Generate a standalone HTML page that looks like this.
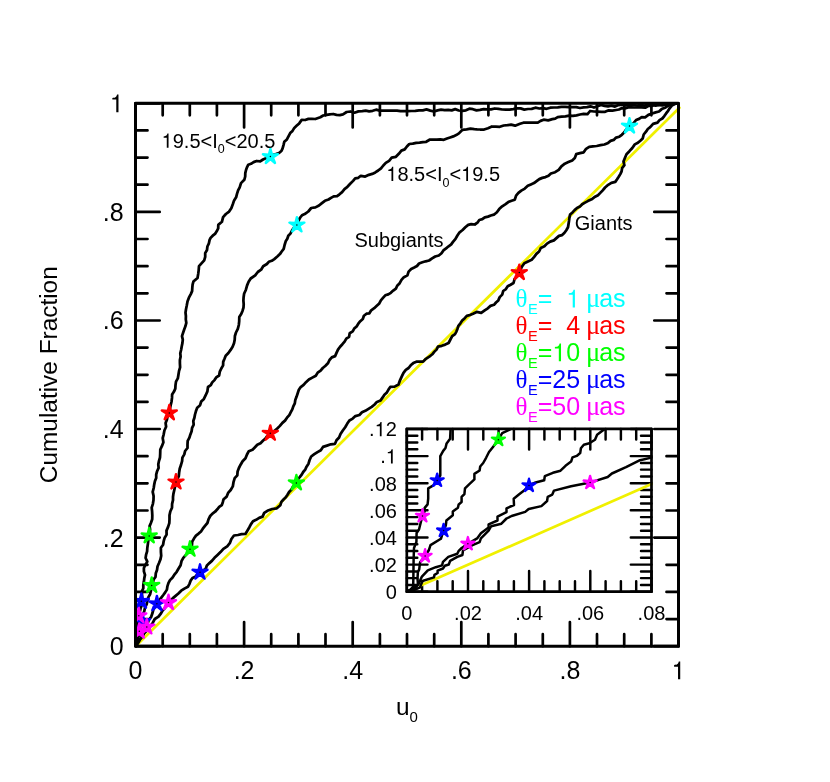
<!DOCTYPE html>
<html><head><meta charset="utf-8"><title>Cumulative Fraction vs u0</title>
<style>
html,body{margin:0;padding:0;background:#fff;}
body{width:830px;height:782px;position:relative;overflow:hidden;font-family:"Liberation Sans",sans-serif;}
</style></head><body>
<svg width="830" height="782" viewBox="0 0 830 782" style="position:absolute;left:0;top:0;will-change:transform">
<rect width="830" height="782" fill="#fff"/>
<g stroke="#000" stroke-width="2.7" stroke-linecap="round" fill="none">
<path d="M135.5 646.2 V622.0 M135.5 103.3 V127.5 M135.5 646.2 H159.7 M678.5 646.2 H654.3"/>
<path d="M162.7 646.2 V634.2 M162.7 103.3 V115.3 M135.5 619.1 H147.5 M678.5 619.1 H666.5"/>
<path d="M189.8 646.2 V634.2 M189.8 103.3 V115.3 M135.5 591.9 H147.5 M678.5 591.9 H666.5"/>
<path d="M216.9 646.2 V634.2 M216.9 103.3 V115.3 M135.5 564.8 H147.5 M678.5 564.8 H666.5"/>
<path d="M244.1 646.2 V622.0 M244.1 103.3 V127.5 M135.5 537.6 H159.7 M678.5 537.6 H654.3"/>
<path d="M271.2 646.2 V634.2 M271.2 103.3 V115.3 M135.5 510.5 H147.5 M678.5 510.5 H666.5"/>
<path d="M298.4 646.2 V634.2 M298.4 103.3 V115.3 M135.5 483.3 H147.5 M678.5 483.3 H666.5"/>
<path d="M325.5 646.2 V634.2 M325.5 103.3 V115.3 M135.5 456.2 H147.5 M678.5 456.2 H666.5"/>
<path d="M352.7 646.2 V622.0 M352.7 103.3 V127.5 M135.5 429.0 H159.7 M678.5 429.0 H654.3"/>
<path d="M379.9 646.2 V634.2 M379.9 103.3 V115.3 M135.5 401.9 H147.5 M678.5 401.9 H666.5"/>
<path d="M407.0 646.2 V634.2 M407.0 103.3 V115.3 M135.5 374.8 H147.5 M678.5 374.8 H666.5"/>
<path d="M434.2 646.2 V634.2 M434.2 103.3 V115.3 M135.5 347.6 H147.5 M678.5 347.6 H666.5"/>
<path d="M461.3 646.2 V622.0 M461.3 103.3 V127.5 M135.5 320.5 H159.7 M678.5 320.5 H654.3"/>
<path d="M488.4 646.2 V634.2 M488.4 103.3 V115.3 M135.5 293.3 H147.5 M678.5 293.3 H666.5"/>
<path d="M515.6 646.2 V634.2 M515.6 103.3 V115.3 M135.5 266.2 H147.5 M678.5 266.2 H666.5"/>
<path d="M542.8 646.2 V634.2 M542.8 103.3 V115.3 M135.5 239.0 H147.5 M678.5 239.0 H666.5"/>
<path d="M569.9 646.2 V622.0 M569.9 103.3 V127.5 M135.5 211.9 H159.7 M678.5 211.9 H654.3"/>
<path d="M597.0 646.2 V634.2 M597.0 103.3 V115.3 M135.5 184.7 H147.5 M678.5 184.7 H666.5"/>
<path d="M624.2 646.2 V634.2 M624.2 103.3 V115.3 M135.5 157.6 H147.5 M678.5 157.6 H666.5"/>
<path d="M651.4 646.2 V634.2 M651.4 103.3 V115.3 M135.5 130.4 H147.5 M678.5 130.4 H666.5"/>
<path d="M678.5 646.2 V622.0 M678.5 103.3 V127.5 M135.5 103.3 H159.7 M678.5 103.3 H654.3"/>
</g>
<path d="M138.2 643.8 L679.4 107.7" stroke="#f0f000" stroke-width="2.7" fill="none" stroke-linecap="round"/>
<g stroke="#000" stroke-width="2.75" stroke-linejoin="round" stroke-linecap="round" fill="none">
<path d="M136.0 646.0 L136.5 642.1 L137.1 638.2 L137.4 634.3 L137.4 630.4 L137.7 626.7 L137.6 623.1 L138.5 619.5 L138.8 615.8 L139.7 612.2 L140.5 608.6 L141.8 605.1 L141.4 601.3 L142.2 598.1 L142.0 594.8 L141.9 591.4 L143.3 588.3 L143.3 584.9 L143.9 581.6 L144.3 578.2 L145.0 574.9 L143.9 571.4 L143.9 568.0 L145.5 564.7 L147.3 561.6 L145.6 558.0 L146.1 554.6 L147.1 551.3 L147.3 548.0 L147.9 543.9 L148.4 539.9 L149.2 535.9 L149.7 532.7 L150.1 529.5 L149.6 526.1 L150.9 523.0 L152.2 519.3 L152.3 515.4 L152.1 511.5 L151.7 507.6 L152.9 503.8 L153.5 500.0 L153.6 496.0 L152.7 491.9 L153.7 488.0 L154.2 484.6 L154.9 481.3 L156.2 478.0 L156.2 474.6 L157.1 471.2 L158.6 467.9 L158.3 464.3 L159.0 460.8 L160.0 457.5 L160.2 453.5 L160.3 449.5 L162.0 445.9 L163.4 442.2 L162.7 438.1 L163.7 434.3 L164.4 430.5 L166.1 426.8 L165.6 423.0 L166.9 419.7 L167.6 416.1 L169.3 412.9 L169.9 409.1 L170.6 405.4 L171.5 401.7 L172.0 397.9 L172.1 394.6 L174.0 391.6 L175.3 388.6 L175.5 385.1 L176.0 381.6 L177.8 378.4 L178.4 375.0 L179.0 371.1 L180.1 367.3 L179.9 363.3 L179.9 360.0 L180.6 356.7 L180.3 353.3 L181.1 350.0 L181.7 346.5 L182.4 343.1 L182.8 339.7 L182.0 336.1 L183.1 332.8 L184.2 329.5 L185.4 326.3 L186.3 322.9 L185.8 319.4 L185.9 316.0 L185.5 312.6 L186.0 309.2 L186.8 305.3 L187.5 301.4 L188.9 297.7 L190.8 294.1 L192.1 291.1 L192.3 287.8 L192.6 284.6 L193.4 281.6 L197.5 277.9 L198.2 273.9 L198.7 270.1 L199.0 266.2 L201.7 263.2 L204.2 260.3 L205.2 256.9 L205.2 253.1 L207.0 250.0 L207.4 246.5 L208.9 243.3 L209.6 239.9 L210.6 237.9 L212.7 235.7 L215.0 233.9 L216.7 231.3 L218.2 228.4 L218.3 224.9 L221.9 221.8 L223.1 217.1 L225.9 214.0 L229.1 211.6 L231.3 208.2 L232.8 204.3 L234.1 200.4 L236.1 197.3 L237.0 193.8 L238.1 190.4 L239.7 187.3 L241.0 183.1 L244.3 179.8 L245.2 176.5 L245.3 173.1 L246.1 169.8 L247.1 167.1 L248.3 164.7 L251.0 163.8 L253.6 162.1 L256.7 161.0 L260.2 161.4 L263.0 159.5 L266.6 157.9 L270.4 156.6 L272.9 154.8 L275.9 154.0 L279.0 153.0 L281.4 151.0 L282.6 148.4 L283.5 145.1 L284.3 141.8 L286.9 139.4 L288.6 136.1 L290.2 133.1 L292.5 130.9 L294.3 127.9 L296.8 125.6 L299.2 123.4 L301.7 119.9 L305.1 120.0 L308.4 118.9 L311.8 118.8 L315.3 119.0 L320.3 117.2 L323.2 115.5 L326.6 114.9 L329.8 114.3 L333.1 114.0 L336.5 114.9 L339.8 115.1 L343.0 114.3 L346.6 112.0 L350.5 111.5 L354.5 112.7 L358.4 111.4 L362.3 111.1 L365.7 110.6 L369.2 111.3 L372.7 110.8 L376.1 109.7 L379.6 110.6 L383.1 110.7 L386.5 110.5 L390.0 110.5 L393.5 110.6 L397.0 110.7 L400.5 111.2 L404.0 111.1 L407.8 111.2 L411.5 111.0 L415.3 110.8 L419.0 110.3 L422.8 110.3 L426.5 109.4 L430.3 110.6 L434.0 111.5 L437.5 110.4 L441.1 109.6 L444.6 110.1 L448.2 109.8 L451.7 110.4 L455.2 109.1 L458.8 110.5 L462.3 110.9 L465.9 110.3 L469.4 108.7 L472.9 109.2 L476.5 110.4 L480.0 109.9 L483.7 109.1 L487.4 109.4 L491.1 109.3 L494.7 108.5 L498.5 108.9 L502.2 109.5 L505.9 109.6 L509.6 109.6 L513.2 109.2 L516.9 108.4 L520.6 108.4 L524.3 109.6 L528.0 109.0 L531.7 108.9 L535.4 107.7 L539.2 108.5 L542.9 108.2 L546.6 108.8 L550.3 107.7 L554.0 107.5 L557.7 107.3 L561.4 106.9 L565.1 106.9 L568.9 107.1 L572.6 107.0 L576.3 107.1 L580.0 108.0 L583.5 107.4 L587.0 107.2 L590.5 106.3 L594.0 107.5 L597.5 106.3 L601.0 105.0 L604.5 105.9 L608.0 106.3 L611.5 105.6 L615.0 106.6 L618.5 105.1 L622.0 104.7 L625.7 105.3 L629.5 105.2 L633.2 105.1 L637.0 105.5 L640.7 105.0 L644.5 105.7 L648.2 104.1 L652.0 104.7 L655.7 105.7 L659.4 104.7 L663.0 104.5 L666.7 104.4 L670.3 103.8 L674.0 103.5 L677.0 103.3"/>
<path d="M136.0 646.0 L136.8 642.3 L137.6 638.6 L139.1 635.1 L139.3 631.3 L139.8 627.9 L141.4 624.8 L142.5 621.6 L142.8 618.4 L142.4 615.1 L144.2 611.5 L145.0 607.6 L146.7 604.1 L147.4 600.7 L148.3 597.4 L150.1 594.3 L151.1 589.9 L151.7 585.4 L153.0 582.6 L153.6 579.5 L155.5 576.9 L155.8 573.3 L157.0 570.1 L157.5 566.5 L158.9 563.3 L160.4 559.6 L161.2 555.8 L160.9 551.8 L160.9 547.8 L163.1 544.7 L163.7 541.1 L164.7 537.7 L166.6 534.6 L166.5 530.6 L168.1 526.9 L169.3 523.2 L169.5 519.2 L169.5 515.3 L170.3 511.5 L172.0 507.8 L172.1 503.9 L173.0 500.1 L173.0 497.0 L173.4 493.9 L174.3 490.0 L175.2 486.0 L176.0 482.0 L177.3 479.0 L178.8 476.1 L179.1 472.9 L179.7 468.8 L181.0 465.0 L182.1 461.1 L182.4 457.6 L184.3 454.4 L185.1 451.0 L187.5 448.0 L187.5 444.4 L187.7 440.9 L189.4 437.7 L190.4 434.4 L191.6 431.2 L192.1 427.8 L193.7 424.6 L193.3 421.0 L194.4 417.8 L195.0 414.5 L195.9 411.3 L197.2 407.7 L200.1 405.2 L201.2 401.5 L203.9 398.9 L205.7 395.2 L207.4 391.4 L208.0 387.0 L210.8 385.2 L212.2 382.4 L214.5 380.1 L216.2 377.4 L219.1 375.5 L219.8 371.7 L221.3 368.5 L223.1 365.4 L223.2 361.9 L224.5 358.8 L225.7 355.7 L228.4 353.0 L230.6 349.9 L232.6 346.7 L234.0 343.3 L234.7 339.7 L234.9 336.0 L236.0 332.5 L237.8 328.9 L238.8 325.0 L239.2 321.1 L239.3 317.0 L241.2 314.1 L242.5 310.9 L243.5 307.5 L243.7 304.1 L243.4 300.6 L243.6 297.2 L244.1 293.8 L245.9 289.7 L247.1 285.4 L248.6 281.8 L250.7 278.5 L255.2 275.4 L257.8 272.0 L261.1 269.7 L263.2 266.2 L266.9 264.0 L268.8 261.8 L271.8 260.8 L274.3 259.1 L277.6 256.3 L279.9 254.1 L281.7 251.5 L283.7 248.9 L284.6 245.0 L285.7 241.3 L287.3 238.8 L288.3 235.8 L290.4 233.6 L292.1 230.4 L294.2 227.4 L296.9 225.0 L298.3 221.2 L300.2 217.5 L302.0 215.3 L304.7 214.1 L308.3 211.5 L311.2 208.0 L315.4 207.4 L319.0 205.5 L321.9 203.1 L324.9 200.8 L328.5 199.5 L331.0 197.9 L333.7 196.4 L337.1 196.2 L339.5 194.3 L342.1 192.1 L344.5 189.1 L347.4 186.8 L350.2 183.8 L353.1 180.9 L355.2 178.4 L358.3 177.8 L360.8 175.8 L365.2 176.6 L368.9 174.8 L372.2 173.9 L375.3 172.4 L378.2 170.5 L381.0 168.3 L383.3 165.5 L385.8 162.9 L389.1 160.8 L391.7 157.7 L395.9 156.8 L398.8 153.8 L401.4 150.6 L404.7 149.4 L406.9 146.5 L409.3 144.0 L412.8 143.6 L416.2 142.8 L419.6 142.7 L422.9 142.1 L426.2 141.8 L430.0 139.5 L433.5 139.5 L436.9 139.7 L440.3 139.4 L443.8 139.8 L447.0 138.5 L450.1 137.5 L453.3 136.4 L456.2 135.1 L458.9 133.4 L462.5 129.8 L466.6 129.4 L470.4 128.7 L474.3 129.2 L477.1 129.4 L480.0 129.5 L484.1 129.5 L488.0 128.2 L491.9 126.5 L495.8 126.6 L499.8 126.8 L503.7 125.5 L507.5 125.2 L511.1 124.6 L515.1 125.7 L520.0 123.8 L523.4 122.7 L527.0 122.5 L530.6 122.6 L534.2 122.7 L537.8 122.6 L540.6 120.9 L543.7 119.7 L548.2 120.3 L552.3 119.2 L555.2 118.6 L557.7 117.1 L561.6 116.7 L565.4 116.3 L569.2 115.6 L572.9 115.9 L576.5 115.4 L580.0 114.5 L583.6 113.9 L587.5 114.2 L590.1 111.0 L593.9 111.5 L597.6 111.7 L601.4 111.9 L605.1 111.8 L608.7 110.3 L612.4 110.7 L616.1 110.0 L619.0 109.5 L621.6 108.2 L624.9 108.4 L628.1 107.4 L631.3 107.4 L634.6 107.5 L637.8 107.4 L641.5 107.3 L645.2 107.7 L648.7 105.9 L652.3 105.8 L655.6 104.5 L659.1 105.1 L662.5 105.3 L665.8 104.6 L669.2 104.3 L673.1 103.9 L677.0 103.3"/>
<path d="M136.0 646.0 L137.9 642.8 L139.9 639.6 L141.8 636.4 L143.8 633.5 L144.9 630.0 L146.8 627.0 L147.7 623.4 L148.8 619.8 L151.2 616.8 L152.4 613.3 L153.3 609.9 L154.9 606.7 L156.9 603.8 L159.0 600.6 L161.3 597.6 L163.3 595.0 L165.2 592.4 L166.9 589.6 L167.4 586.3 L168.4 583.1 L170.0 580.1 L172.4 577.7 L174.2 574.9 L176.7 571.8 L178.6 568.5 L180.6 565.2 L181.5 561.2 L183.3 557.9 L185.7 555.2 L188.1 552.3 L190.0 549.2 L191.9 545.8 L192.2 541.7 L194.1 538.3 L196.0 535.6 L198.6 533.6 L201.0 531.4 L202.8 528.7 L205.0 525.8 L207.4 523.0 L208.5 519.3 L210.2 516.0 L212.5 513.6 L215.1 511.7 L217.3 509.3 L219.2 506.9 L221.8 505.1 L222.8 502.2 L223.6 499.2 L226.7 496.6 L228.1 492.9 L230.7 490.0 L232.8 486.4 L233.5 482.2 L234.7 478.2 L237.3 475.3 L237.6 471.4 L238.9 468.0 L240.6 464.7 L242.6 461.2 L245.5 458.3 L247.0 454.5 L248.8 451.2 L252.5 449.8 L255.0 447.2 L257.3 444.7 L260.5 443.2 L262.9 440.8 L265.5 438.4 L267.6 435.5 L270.3 433.3 L273.9 431.4 L277.0 428.8 L279.9 425.9 L282.4 422.9 L285.0 420.6 L287.0 417.7 L289.3 415.1 L290.8 412.2 L292.3 409.4 L293.3 406.3 L294.8 403.4 L295.3 399.9 L296.6 396.6 L297.7 393.3 L298.7 390.1 L300.7 387.1 L303.6 384.9 L306.0 382.2 L308.9 379.5 L312.3 377.6 L315.8 375.7 L317.7 372.6 L320.6 370.6 L322.8 368.0 L325.5 365.8 L327.9 363.3 L329.5 360.0 L331.8 357.4 L335.1 356.1 L336.5 352.9 L338.0 349.6 L340.1 346.7 L342.4 344.2 L344.6 341.6 L346.3 338.6 L349.1 336.8 L349.7 333.2 L352.7 331.4 L354.2 328.6 L356.6 326.4 L358.3 323.7 L360.3 321.2 L362.8 319.0 L363.9 315.8 L366.5 313.7 L369.4 313.3 L371.2 310.3 L374.2 308.2 L376.8 305.8 L379.3 303.4 L380.9 300.3 L383.2 297.7 L385.3 295.3 L388.3 294.4 L390.8 292.8 L393.2 290.6 L395.9 288.6 L397.2 285.7 L399.7 283.2 L401.5 279.9 L403.9 277.2 L407.4 275.4 L408.6 271.6 L411.2 269.0 L414.2 267.5 L417.0 266.0 L419.1 263.5 L422.4 262.3 L425.7 261.3 L429.1 260.5 L432.1 258.4 L435.2 256.5 L438.8 255.5 L441.5 253.3 L443.4 250.4 L446.1 248.3 L448.6 246.3 L451.2 244.4 L453.0 241.9 L455.5 238.9 L457.4 235.5 L459.6 232.3 L462.6 230.0 L465.3 227.3 L468.2 224.9 L471.3 224.1 L474.8 224.5 L477.4 222.7 L479.3 220.0 L482.3 219.2 L484.8 217.3 L488.0 216.6 L490.8 215.5 L493.9 214.7 L496.9 212.2 L499.2 209.1 L502.2 206.3 L505.6 204.1 L508.9 201.7 L511.6 200.7 L514.8 199.7 L516.1 195.6 L518.4 192.9 L521.3 190.6 L524.8 188.6 L527.8 185.8 L530.9 184.4 L534.0 183.1 L536.6 181.1 L539.3 179.1 L542.3 177.9 L545.5 177.1 L548.5 175.7 L550.9 173.5 L555.1 172.2 L558.7 169.9 L561.4 166.3 L564.8 163.7 L568.4 162.1 L572.2 160.4 L574.8 157.9 L576.2 154.2 L580.0 153.2 L583.7 152.3 L586.1 148.8 L589.2 146.8 L592.9 146.3 L596.7 146.0 L600.5 145.2 L604.4 144.5 L608.1 142.9 L610.6 140.9 L613.7 139.9 L616.1 137.6 L619.3 136.7 L621.8 134.8 L624.1 132.5 L626.5 129.0 L629.5 126.1 L633.2 123.6 L636.1 120.0 L639.1 118.9 L641.7 117.2 L645.1 117.3 L648.4 114.9 L652.2 113.5 L655.6 112.4 L659.0 111.5 L661.7 109.1 L665.6 107.4 L669.2 105.1 L674.0 103.8 L677.0 103.3"/>
<path d="M136.0 646.0 L137.9 643.1 L139.6 640.0 L142.1 636.8 L144.2 633.2 L147.2 630.3 L149.3 627.9 L151.0 625.2 L152.8 622.7 L154.8 619.0 L158.5 616.7 L161.0 613.4 L162.6 610.5 L164.9 608.1 L166.7 605.4 L168.5 602.6 L170.7 600.3 L172.9 598.1 L175.3 596.1 L178.4 593.5 L181.2 590.7 L184.4 588.6 L187.9 586.8 L189.5 583.8 L190.7 580.6 L192.5 577.9 L195.7 576.6 L197.4 573.9 L200.0 572.2 L202.8 570.9 L205.6 568.9 L206.9 565.4 L209.4 563.1 L211.9 560.9 L214.5 557.8 L217.5 554.9 L220.5 552.1 L223.4 548.8 L227.2 546.3 L229.8 543.2 L231.4 539.0 L234.0 535.5 L237.9 535.0 L241.5 534.2 L245.4 534.0 L247.5 530.5 L249.4 527.2 L251.0 524.1 L253.0 521.3 L256.1 519.8 L259.2 517.9 L262.6 516.6 L264.2 512.9 L267.4 510.8 L272.2 509.0 L276.8 508.3 L280.3 505.2 L281.4 501.9 L283.5 499.5 L285.8 497.3 L287.5 494.7 L289.1 492.0 L291.3 489.7 L293.4 486.0 L296.4 482.9 L297.5 479.8 L299.7 477.2 L301.7 474.6 L303.2 472.0 L305.2 469.7 L306.4 466.9 L308.5 463.7 L309.6 460.0 L311.2 456.5 L314.3 454.2 L317.5 452.1 L320.8 450.2 L323.0 446.9 L327.0 445.6 L330.8 444.3 L335.0 443.8 L336.5 440.3 L339.1 437.5 L340.5 434.0 L342.8 430.5 L345.2 427.2 L347.3 423.6 L349.4 420.5 L352.7 418.6 L355.4 416.1 L359.4 415.0 L362.0 412.3 L365.3 410.8 L368.5 408.8 L371.7 406.8 L374.6 404.5 L376.9 401.9 L380.6 400.4 L382.7 397.4 L384.4 394.7 L386.9 392.4 L388.5 389.6 L390.3 386.9 L394.6 386.6 L398.5 384.5 L400.0 380.3 L401.8 376.4 L403.5 372.9 L405.8 369.9 L408.6 368.0 L410.7 365.3 L413.3 363.1 L416.4 361.7 L419.7 361.6 L423.1 361.6 L425.9 358.8 L429.3 356.7 L432.3 354.3 L434.2 351.9 L436.5 349.6 L438.0 346.6 L441.8 345.8 L445.2 344.6 L448.6 343.0 L450.4 339.5 L452.2 336.2 L455.0 334.1 L456.4 331.6 L457.5 328.7 L458.4 325.8 L460.4 323.3 L462.2 320.6 L464.5 318.4 L466.8 315.9 L470.0 315.0 L473.0 313.7 L476.7 311.9 L481.2 312.8 L484.7 310.3 L487.8 308.3 L490.5 305.9 L494.0 304.8 L496.0 302.5 L498.3 300.4 L499.7 297.1 L502.2 294.6 L503.2 291.0 L505.9 289.1 L507.7 286.3 L510.6 284.7 L513.5 283.0 L514.6 279.0 L517.4 276.1 L519.3 272.6 L520.6 269.3 L522.2 266.2 L524.3 263.2 L528.0 261.5 L531.6 259.8 L534.2 256.8 L536.4 253.9 L539.1 251.5 L540.8 248.0 L544.4 246.3 L547.0 243.6 L550.2 241.6 L553.9 240.4 L556.7 237.9 L559.0 235.9 L562.1 235.1 L564.3 233.0 L566.3 230.2 L568.0 227.3 L568.5 224.2 L569.0 221.0 L569.4 217.9 L570.1 214.6 L572.5 212.4 L574.6 210.1 L577.0 208.0 L579.9 206.6 L582.2 204.2 L585.0 202.6 L587.8 201.1 L591.6 199.3 L595.1 196.7 L598.0 195.2 L600.3 192.9 L602.5 190.6 L605.1 187.5 L608.2 184.8 L611.4 182.8 L615.3 181.9 L617.1 179.3 L618.7 176.8 L620.3 174.1 L621.6 171.3 L622.1 168.1 L624.4 165.2 L623.5 161.4 L624.8 158.2 L626.5 154.2 L629.4 151.2 L632.3 148.0 L634.8 144.4 L637.9 142.8 L640.3 140.7 L642.7 138.4 L643.7 134.5 L646.2 131.4 L647.8 129.0 L650.2 127.2 L653.1 123.9 L657.5 122.6 L659.5 120.1 L662.3 118.5 L664.3 116.1 L666.1 113.4 L668.1 110.8 L669.8 108.0 L671.9 105.5 L675.0 103.8 L677.0 103.3"/>
</g>
<clipPath id="mc"><rect x="135.5" y="103.3" width="543.0" height="542.9"/></clipPath>
<g clip-path="url(#mc)">
<path d="M270.4 148.7 L271.9 154.6 L277.9 154.2 L272.8 157.4 L275.0 163.0 L270.4 159.1 L265.8 163.0 L268.0 157.4 L262.9 154.2 L268.9 154.6Z" fill="#00ffff" stroke="#00ffff" stroke-width="2.4" stroke-linejoin="round"/><circle cx="270.4" cy="156.6" r="0.75" fill="#000"/>
<path d="M296.9 217.1 L298.4 223.0 L304.4 222.6 L299.3 225.8 L301.5 231.4 L296.9 227.5 L292.3 231.4 L294.5 225.8 L289.4 222.6 L295.4 223.0Z" fill="#00ffff" stroke="#00ffff" stroke-width="2.4" stroke-linejoin="round"/><circle cx="296.9" cy="225.0" r="0.75" fill="#000"/>
<path d="M629.5 118.2 L631.0 124.1 L637.0 123.7 L631.9 126.9 L634.1 132.5 L629.5 128.6 L624.9 132.5 L627.1 126.9 L622.0 123.7 L628.0 124.1Z" fill="#00ffff" stroke="#00ffff" stroke-width="2.4" stroke-linejoin="round"/><circle cx="629.5" cy="126.1" r="0.75" fill="#000"/>
<path d="M169.3 405.0 L170.8 410.9 L176.8 410.5 L171.7 413.7 L173.9 419.3 L169.3 415.4 L164.7 419.3 L166.9 413.7 L161.8 410.5 L167.8 410.9Z" fill="#ff0000" stroke="#ff0000" stroke-width="2.4" stroke-linejoin="round"/><circle cx="169.3" cy="412.9" r="0.75" fill="#000"/>
<path d="M176.0 474.1 L177.5 480.0 L183.5 479.6 L178.4 482.8 L180.6 488.4 L176.0 484.5 L171.4 488.4 L173.6 482.8 L168.5 479.6 L174.5 480.0Z" fill="#ff0000" stroke="#ff0000" stroke-width="2.4" stroke-linejoin="round"/><circle cx="176.0" cy="482.0" r="0.75" fill="#000"/>
<path d="M270.3 425.4 L271.8 431.3 L277.8 430.9 L272.7 434.1 L274.9 439.7 L270.3 435.8 L265.7 439.7 L267.9 434.1 L262.8 430.9 L268.8 431.3Z" fill="#ff0000" stroke="#ff0000" stroke-width="2.4" stroke-linejoin="round"/><circle cx="270.3" cy="433.3" r="0.75" fill="#000"/>
<path d="M519.3 264.7 L520.8 270.6 L526.8 270.2 L521.7 273.4 L523.9 279.0 L519.3 275.1 L514.7 279.0 L516.9 273.4 L511.8 270.2 L517.8 270.6Z" fill="#ff0000" stroke="#ff0000" stroke-width="2.4" stroke-linejoin="round"/><circle cx="519.3" cy="272.6" r="0.75" fill="#000"/>
<path d="M149.2 528.0 L150.7 533.9 L156.7 533.5 L151.6 536.7 L153.8 542.3 L149.2 538.4 L144.6 542.3 L146.8 536.7 L141.7 533.5 L147.7 533.9Z" fill="#00ff00" stroke="#00ff00" stroke-width="2.4" stroke-linejoin="round"/><circle cx="149.2" cy="535.9" r="0.75" fill="#000"/>
<path d="M151.7 577.5 L153.2 583.4 L159.2 583.0 L154.1 586.2 L156.3 591.8 L151.7 587.9 L147.1 591.8 L149.3 586.2 L144.2 583.0 L150.2 583.4Z" fill="#00ff00" stroke="#00ff00" stroke-width="2.4" stroke-linejoin="round"/><circle cx="151.7" cy="585.4" r="0.75" fill="#000"/>
<path d="M190.0 541.3 L191.5 547.2 L197.5 546.8 L192.4 550.0 L194.6 555.6 L190.0 551.7 L185.4 555.6 L187.6 550.0 L182.5 546.8 L188.5 547.2Z" fill="#00ff00" stroke="#00ff00" stroke-width="2.4" stroke-linejoin="round"/><circle cx="190.0" cy="549.2" r="0.75" fill="#000"/>
<path d="M296.4 475.0 L297.9 480.9 L303.9 480.5 L298.8 483.7 L301.0 489.3 L296.4 485.4 L291.8 489.3 L294.0 483.7 L288.9 480.5 L294.9 480.9Z" fill="#00ff00" stroke="#00ff00" stroke-width="2.4" stroke-linejoin="round"/><circle cx="296.4" cy="482.9" r="0.75" fill="#000"/>
<path d="M141.4 593.4 L142.9 599.3 L148.9 598.9 L143.8 602.1 L146.0 607.7 L141.4 603.8 L136.8 607.7 L139.0 602.1 L133.9 598.9 L139.9 599.3Z" fill="#0000ff" stroke="#0000ff" stroke-width="2.4" stroke-linejoin="round"/><circle cx="141.4" cy="601.3" r="0.75" fill="#000"/>
<path d="M142.5 613.7 L144.0 619.6 L150.0 619.2 L144.9 622.4 L147.1 628.0 L142.5 624.1 L137.9 628.0 L140.1 622.4 L135.0 619.2 L141.0 619.6Z" fill="#0000ff" stroke="#0000ff" stroke-width="2.4" stroke-linejoin="round"/><circle cx="142.5" cy="621.6" r="0.75" fill="#000"/>
<path d="M156.9 595.9 L158.4 601.8 L164.4 601.4 L159.3 604.6 L161.5 610.2 L156.9 606.3 L152.3 610.2 L154.5 604.6 L149.4 601.4 L155.4 601.8Z" fill="#0000ff" stroke="#0000ff" stroke-width="2.4" stroke-linejoin="round"/><circle cx="156.9" cy="603.8" r="0.75" fill="#000"/>
<path d="M200.0 564.3 L201.5 570.2 L207.5 569.8 L202.4 573.0 L204.6 578.6 L200.0 574.7 L195.4 578.6 L197.6 573.0 L192.5 569.8 L198.5 570.2Z" fill="#0000ff" stroke="#0000ff" stroke-width="2.4" stroke-linejoin="round"/><circle cx="200.0" cy="572.2" r="0.75" fill="#000"/>
<path d="M138.8 607.9 L140.3 613.8 L146.3 613.4 L141.2 616.6 L143.4 622.2 L138.8 618.3 L134.2 622.2 L136.4 616.6 L131.3 613.4 L137.3 613.8Z" fill="#ff00ff" stroke="#ff00ff" stroke-width="2.4" stroke-linejoin="round"/><circle cx="138.8" cy="615.8" r="0.75" fill="#000"/>
<path d="M139.3 623.4 L140.8 629.3 L146.8 628.9 L141.7 632.1 L143.9 637.7 L139.3 633.8 L134.7 637.7 L136.9 632.1 L131.8 628.9 L137.8 629.3Z" fill="#ff00ff" stroke="#ff00ff" stroke-width="2.4" stroke-linejoin="round"/><circle cx="139.3" cy="631.3" r="0.75" fill="#000"/>
<path d="M146.8 619.1 L148.3 625.0 L154.3 624.6 L149.2 627.8 L151.4 633.4 L146.8 629.5 L142.2 633.4 L144.4 627.8 L139.3 624.6 L145.3 625.0Z" fill="#ff00ff" stroke="#ff00ff" stroke-width="2.4" stroke-linejoin="round"/><circle cx="146.8" cy="627.0" r="0.75" fill="#000"/>
<path d="M168.5 594.7 L170.0 600.6 L176.0 600.2 L170.9 603.4 L173.1 609.0 L168.5 605.1 L163.9 609.0 L166.1 603.4 L161.0 600.2 L167.0 600.6Z" fill="#ff00ff" stroke="#ff00ff" stroke-width="2.4" stroke-linejoin="round"/><circle cx="168.5" cy="602.6" r="0.75" fill="#000"/>
</g>
<rect x="135.5" y="103.3" width="543.0" height="542.9" fill="none" stroke="#000" stroke-width="3.0" stroke-linejoin="round"/>
<g stroke="#000" stroke-width="2.45" stroke-linecap="round" fill="none">
<path d="M406.8 591.7 V571.0 M406.8 428.9 V449.6"/>
<path d="M422.1 591.7 V581.2 M422.1 428.9 V439.4"/>
<path d="M437.4 591.7 V581.2 M437.4 428.9 V439.4"/>
<path d="M452.7 591.7 V581.2 M452.7 428.9 V439.4"/>
<path d="M468.0 591.7 V571.0 M468.0 428.9 V449.6"/>
<path d="M483.3 591.7 V581.2 M483.3 428.9 V439.4"/>
<path d="M498.6 591.7 V581.2 M498.6 428.9 V439.4"/>
<path d="M513.9 591.7 V581.2 M513.9 428.9 V439.4"/>
<path d="M529.1 591.7 V571.0 M529.1 428.9 V449.6"/>
<path d="M544.4 591.7 V581.2 M544.4 428.9 V439.4"/>
<path d="M559.7 591.7 V581.2 M559.7 428.9 V439.4"/>
<path d="M575.0 591.7 V581.2 M575.0 428.9 V439.4"/>
<path d="M590.3 591.7 V571.0 M590.3 428.9 V449.6"/>
<path d="M605.6 591.7 V581.2 M605.6 428.9 V439.4"/>
<path d="M620.9 591.7 V581.2 M620.9 428.9 V439.4"/>
<path d="M636.2 591.7 V581.2 M636.2 428.9 V439.4"/>
<path d="M651.5 591.7 V571.0 M651.5 428.9 V449.6"/>
<path d="M406.8 591.7 H427.5 M651.5 591.7 H630.8"/>
<path d="M406.8 584.9 H417.3 M651.5 584.9 H641.0"/>
<path d="M406.8 578.1 H417.3 M651.5 578.1 H641.0"/>
<path d="M406.8 571.4 H417.3 M651.5 571.4 H641.0"/>
<path d="M406.8 564.6 H427.5 M651.5 564.6 H630.8"/>
<path d="M406.8 557.8 H417.3 M651.5 557.8 H641.0"/>
<path d="M406.8 551.0 H417.3 M651.5 551.0 H641.0"/>
<path d="M406.8 544.2 H417.3 M651.5 544.2 H641.0"/>
<path d="M406.8 537.5 H427.5 M651.5 537.5 H630.8"/>
<path d="M406.8 530.7 H417.3 M651.5 530.7 H641.0"/>
<path d="M406.8 523.9 H417.3 M651.5 523.9 H641.0"/>
<path d="M406.8 517.1 H417.3 M651.5 517.1 H641.0"/>
<path d="M406.8 510.3 H427.5 M651.5 510.3 H630.8"/>
<path d="M406.8 503.5 H417.3 M651.5 503.5 H641.0"/>
<path d="M406.8 496.8 H417.3 M651.5 496.8 H641.0"/>
<path d="M406.8 490.0 H417.3 M651.5 490.0 H641.0"/>
<path d="M406.8 483.2 H427.5 M651.5 483.2 H630.8"/>
<path d="M406.8 476.4 H417.3 M651.5 476.4 H641.0"/>
<path d="M406.8 469.6 H417.3 M651.5 469.6 H641.0"/>
<path d="M406.8 462.9 H417.3 M651.5 462.9 H641.0"/>
<path d="M406.8 456.1 H427.5 M651.5 456.1 H630.8"/>
<path d="M406.8 449.3 H417.3 M651.5 449.3 H641.0"/>
<path d="M406.8 442.5 H417.3 M651.5 442.5 H641.0"/>
<path d="M406.8 435.7 H417.3 M651.5 435.7 H641.0"/>
<path d="M406.8 428.9 H427.5 M651.5 428.9 H630.8"/>
</g>
<clipPath id="ic"><rect x="406.8" y="427.9" width="246.2" height="164.8"/></clipPath>
<g clip-path="url(#ic)">
<path d="M420.6 585.6 L651.6 484.0" stroke="#f0f000" stroke-width="2.7" fill="none" stroke-linecap="round"/>
<g stroke="#000" stroke-width="2.5" stroke-linejoin="round" stroke-linecap="round" fill="none">
<path d="M406.8 591.7 L410.5 589.5 L413.2 586.5 L413.4 575.0 L413.6 560.0 L414.0 548.0 L416.4 542.0 L416.6 533.0 L419.0 529.5 L421.0 521.5 L422.5 515.9 L424.7 511.3 L424.7 507.9 L427.6 504.4 L428.2 498.7 L428.2 488.3 L433.4 485.4 L437.2 480.4 L440.3 475.6 L440.3 456.1 L443.2 450.9 L445.5 448.0 L446.6 443.4 L450.1 438.8 L450.6 428.9"/>
<path d="M406.8 591.7 L412.0 589.5 L416.5 586.5 L417.9 583.7 L417.5 578.3 L417.9 572.1 L419.2 569.4 L420.1 562.2 L425.1 556.0 L428.8 550.3 L430.5 545.1 L440.9 538.8 L443.6 530.6 L445.8 525.6 L446.4 520.5 L452.8 515.3 L452.8 511.5 L457.9 507.7 L458.7 504.4 L461.6 502.1 L461.6 496.9 L464.4 494.1 L465.0 488.3 L469.1 484.3 L474.4 479.4 L474.4 473.9 L479.6 470.5 L480.2 466.5 L483.2 463.0 L486.1 457.8 L489.0 452.0 L493.0 446.9 L498.4 439.7 L502.2 433.1 L508.6 430.2 L511.0 428.9"/>
<path d="M406.8 591.7 L414.0 588.0 L418.4 584.6 L421.9 576.6 L427.8 570.3 L435.8 567.2 L442.1 565.4 L443.0 561.8 L448.3 556.9 L457.3 553.7 L458.5 551.2 L461.7 548.0 L467.9 543.8 L477.1 538.4 L480.9 533.2 L488.6 527.5 L488.6 524.3 L497.5 520.5 L497.5 516.6 L506.5 512.1 L506.5 508.3 L514.0 505.0 L513.7 498.7 L519.5 494.1 L524.1 490.6 L529.0 485.5 L535.6 482.5 L544.2 480.2 L544.8 476.2 L552.9 472.8 L560.5 470.7 L565.5 465.8 L571.1 461.6 L572.5 457.4 L576.7 455.9 L580.2 453.1 L580.9 448.2 L583.8 444.7 L589.4 443.3 L595.0 439.8 L597.1 434.8 L602.7 430.6 L605.0 428.9"/>
<path d="M406.8 591.7 L415.0 589.5 L420.1 587.3 L422.4 581.0 L434.0 577.4 L434.5 574.8 L437.6 573.0 L437.6 570.7 L443.0 568.5 L444.8 565.8 L448.8 564.5 L450.1 560.9 L457.3 556.9 L462.4 555.0 L463.0 550.5 L472.0 545.4 L479.6 542.2 L480.9 538.4 L488.6 530.7 L491.2 526.2 L501.4 523.7 L506.5 518.5 L511.6 516.0 L525.2 511.9 L528.7 509.0 L541.4 506.1 L547.1 501.0 L547.7 496.9 L552.3 494.6 L554.0 490.6 L571.1 486.2 L590.1 482.6 L607.7 477.0 L611.9 473.5 L626.0 467.2 L640.0 460.2 L651.5 457.6"/>
</g></g>
<rect x="406.8" y="428.9" width="244.7" height="162.8" fill="none" stroke="#000" stroke-width="2.7" stroke-linejoin="round"/>
<path d="M498.4 432.9 L499.7 437.9 L504.9 437.6 L500.5 440.4 L502.4 445.2 L498.4 441.9 L494.4 445.2 L496.3 440.4 L491.9 437.6 L497.1 437.9Z" fill="#00ff00" stroke="#00ff00" stroke-width="2.3" stroke-linejoin="round"/><circle cx="498.4" cy="439.7" r="0.75" fill="#000"/>
<path d="M437.2 473.6 L438.5 478.6 L443.7 478.3 L439.3 481.1 L441.2 485.9 L437.2 482.6 L433.2 485.9 L435.1 481.1 L430.7 478.3 L435.9 478.6Z" fill="#0000ff" stroke="#0000ff" stroke-width="2.3" stroke-linejoin="round"/><circle cx="437.2" cy="480.4" r="0.75" fill="#000"/>
<path d="M443.6 523.8 L444.9 528.8 L450.1 528.5 L445.7 531.3 L447.6 536.1 L443.6 532.8 L439.6 536.1 L441.5 531.3 L437.1 528.5 L442.3 528.8Z" fill="#0000ff" stroke="#0000ff" stroke-width="2.3" stroke-linejoin="round"/><circle cx="443.6" cy="530.6" r="0.75" fill="#000"/>
<path d="M529.0 478.7 L530.3 483.7 L535.5 483.4 L531.1 486.2 L533.0 491.0 L529.0 487.7 L525.0 491.0 L526.9 486.2 L522.5 483.4 L527.7 483.7Z" fill="#0000ff" stroke="#0000ff" stroke-width="2.3" stroke-linejoin="round"/><circle cx="529.0" cy="485.5" r="0.75" fill="#000"/>
<path d="M422.5 509.1 L423.8 514.1 L429.0 513.8 L424.6 516.6 L426.5 521.4 L422.5 518.1 L418.5 521.4 L420.4 516.6 L416.0 513.8 L421.2 514.1Z" fill="#ff00ff" stroke="#ff00ff" stroke-width="2.3" stroke-linejoin="round"/><circle cx="422.5" cy="515.9" r="0.75" fill="#000"/>
<path d="M425.1 549.2 L426.4 554.2 L431.6 553.9 L427.2 556.7 L429.1 561.5 L425.1 558.2 L421.1 561.5 L423.0 556.7 L418.6 553.9 L423.8 554.2Z" fill="#ff00ff" stroke="#ff00ff" stroke-width="2.3" stroke-linejoin="round"/><circle cx="425.1" cy="556.0" r="0.75" fill="#000"/>
<path d="M467.9 537.0 L469.2 542.0 L474.4 541.7 L470.0 544.5 L471.9 549.3 L467.9 546.0 L463.9 549.3 L465.8 544.5 L461.4 541.7 L466.6 542.0Z" fill="#ff00ff" stroke="#ff00ff" stroke-width="2.3" stroke-linejoin="round"/><circle cx="467.9" cy="543.8" r="0.75" fill="#000"/>
<path d="M590.1 475.8 L591.4 480.8 L596.6 480.5 L592.2 483.3 L594.1 488.1 L590.1 484.8 L586.1 488.1 L588.0 483.3 L583.6 480.5 L588.8 480.8Z" fill="#ff00ff" stroke="#ff00ff" stroke-width="2.3" stroke-linejoin="round"/><circle cx="590.1" cy="482.6" r="0.75" fill="#000"/>
<g font-family="'Liberation Sans', sans-serif">
<text x="128.55" y="679.30" font-size="25.00" fill="#000">0</text>
<text x="109.80" y="655.10" font-size="25.00" fill="#000">0</text>
<text x="233.68" y="679.30" font-size="25.00" fill="#000">.2</text>
<text x="102.85" y="546.52" font-size="25.00" fill="#000">.2</text>
<text x="342.28" y="679.30" font-size="25.00" fill="#000">.4</text>
<text x="102.85" y="437.94" font-size="25.00" fill="#000">.4</text>
<text x="450.88" y="679.30" font-size="25.00" fill="#000">.6</text>
<text x="102.85" y="329.36" font-size="25.00" fill="#000">.6</text>
<text x="559.48" y="679.30" font-size="25.00" fill="#000">.8</text>
<text x="102.85" y="220.78" font-size="25.00" fill="#000">.8</text>
<path transform="translate(671.55 679.30) scale(0.02500 -0.02500)" d="M259 0V505H102V568C238 585 259 602 290 709H347V0Z" fill="#000"/>
<path transform="translate(109.80 112.20) scale(0.02500 -0.02500)" d="M259 0V505H102V568C238 585 259 602 290 709H347V0Z" fill="#000"/>
<text transform="translate(56.7,374.7) rotate(-90)" font-size="24.4" text-anchor="middle">Cumulative Fraction</text>
<text x="395.9" y="714.6" font-size="24.4">u<tspan font-size="15" dy="7.8">0</tspan></text>
<path transform="translate(161.60 147.80) scale(0.02000 -0.02000)" d="M259 0V505H102V568C238 585 259 602 290 709H347V0Z" fill="#000"/><text x="172.72" y="147.80" font-size="20.00" fill="#000">9.5&lt;I</text>
<text x="217.76" y="153.30" font-size="12.50" fill="#000">0</text>
<text x="224.71" y="147.80" font-size="20.00" fill="#000">&lt;20.5</text>
<path transform="translate(386.30 181.00) scale(0.02000 -0.02000)" d="M259 0V505H102V568C238 585 259 602 290 709H347V0Z" fill="#000"/><text x="397.42" y="181.00" font-size="20.00" fill="#000">8.5&lt;I</text>
<text x="442.46" y="186.50" font-size="12.50" fill="#000">0</text>
<text x="449.41" y="181.00" font-size="20.00" fill="#000">&lt;</text><path transform="translate(461.09 181.00) scale(0.02000 -0.02000)" d="M259 0V505H102V568C238 585 259 602 290 709H347V0Z" fill="#000"/><text x="472.21" y="181.00" font-size="20.00" fill="#000">9.5</text>
<text x="354.5" y="246.5" font-size="20.00" text-anchor="start" fill="#000" >Subgiants</text>
<text x="574.8" y="230.0" font-size="20.00" text-anchor="start" fill="#000" >Giants</text>
<text x="385.78" y="599.00" font-size="20.00" fill="#000">0</text>
<text x="369.10" y="571.88" font-size="20.00" fill="#000">.02</text>
<text x="369.10" y="544.75" font-size="20.00" fill="#000">.04</text>
<text x="369.10" y="517.62" font-size="20.00" fill="#000">.06</text>
<text x="369.10" y="490.50" font-size="20.00" fill="#000">.08</text>
<text x="380.22" y="463.38" font-size="20.00" fill="#000">.</text><path transform="translate(385.78 463.38) scale(0.02000 -0.02000)" d="M259 0V505H102V568C238 585 259 602 290 709H347V0Z" fill="#000"/>
<text x="369.10" y="436.25" font-size="20.00" fill="#000">.</text><path transform="translate(374.66 436.25) scale(0.02000 -0.02000)" d="M259 0V505H102V568C238 585 259 602 290 709H347V0Z" fill="#000"/><text x="385.78" y="436.25" font-size="20.00" fill="#000">2</text>
<text x="401.24" y="620.00" font-size="20.00" fill="#000">0</text>
<text x="454.08" y="620.00" font-size="20.00" fill="#000">.02</text>
<text x="515.25" y="620.00" font-size="20.00" fill="#000">.04</text>
<text x="576.43" y="620.00" font-size="20.00" fill="#000">.06</text>
<text x="637.60" y="620.00" font-size="20.00" fill="#000">.08</text>
<text x="515.5" y="307.4" font-size="25.0" fill="#00ffff" font-family="'Liberation Serif', serif">&#952;</text>
<text x="528.00" y="314.4" font-size="14.6" fill="#00ffff">E</text>
<text x="537.74" y="307.40" font-size="25.00" fill="#00ffff">=&#160;&#160;</text><path transform="translate(566.24 307.40) scale(0.02500 -0.02500)" d="M259 0V505H102V568C238 585 259 602 290 709H347V0Z" fill="#00ffff"/><text x="580.14" y="307.40" font-size="25.00" fill="#00ffff">&#160;</text>
<text x="585.89" y="307.4" font-size="26.5" fill="#00ffff" font-family="'Liberation Serif', serif">&#956;</text>
<text x="599.14" y="307.4" font-size="25.0" fill="#00ffff">as</text>
<text x="515.5" y="334.3" font-size="25.0" fill="#ff0000" font-family="'Liberation Serif', serif">&#952;</text>
<text x="528.00" y="341.3" font-size="14.6" fill="#ff0000">E</text>
<text x="537.74" y="334.30" font-size="25.00" fill="#ff0000">=&#160;&#160;4&#160;</text>
<text x="585.89" y="334.3" font-size="26.5" fill="#ff0000" font-family="'Liberation Serif', serif">&#956;</text>
<text x="599.14" y="334.3" font-size="25.0" fill="#ff0000">as</text>
<text x="515.5" y="361.2" font-size="25.0" fill="#00ff00" font-family="'Liberation Serif', serif">&#952;</text>
<text x="528.00" y="368.2" font-size="14.6" fill="#00ff00">E</text>
<text x="537.74" y="361.20" font-size="25.00" fill="#00ff00">=</text><path transform="translate(552.34 361.20) scale(0.02500 -0.02500)" d="M259 0V505H102V568C238 585 259 602 290 709H347V0Z" fill="#00ff00"/><text x="566.24" y="361.20" font-size="25.00" fill="#00ff00">0&#160;</text>
<text x="585.89" y="361.2" font-size="26.5" fill="#00ff00" font-family="'Liberation Serif', serif">&#956;</text>
<text x="599.14" y="361.2" font-size="25.0" fill="#00ff00">as</text>
<text x="515.5" y="388.1" font-size="25.0" fill="#0000ff" font-family="'Liberation Serif', serif">&#952;</text>
<text x="528.00" y="395.1" font-size="14.6" fill="#0000ff">E</text>
<text x="537.74" y="388.10" font-size="25.00" fill="#0000ff">=25&#160;</text>
<text x="585.89" y="388.1" font-size="26.5" fill="#0000ff" font-family="'Liberation Serif', serif">&#956;</text>
<text x="599.14" y="388.1" font-size="25.0" fill="#0000ff">as</text>
<text x="515.5" y="415.0" font-size="25.0" fill="#ff00ff" font-family="'Liberation Serif', serif">&#952;</text>
<text x="528.00" y="422.0" font-size="14.6" fill="#ff00ff">E</text>
<text x="537.74" y="415.00" font-size="25.00" fill="#ff00ff">=50&#160;</text>
<text x="585.89" y="415.0" font-size="26.5" fill="#ff00ff" font-family="'Liberation Serif', serif">&#956;</text>
<text x="599.14" y="415.0" font-size="25.0" fill="#ff00ff">as</text>
</g>
</svg>
</body></html>
